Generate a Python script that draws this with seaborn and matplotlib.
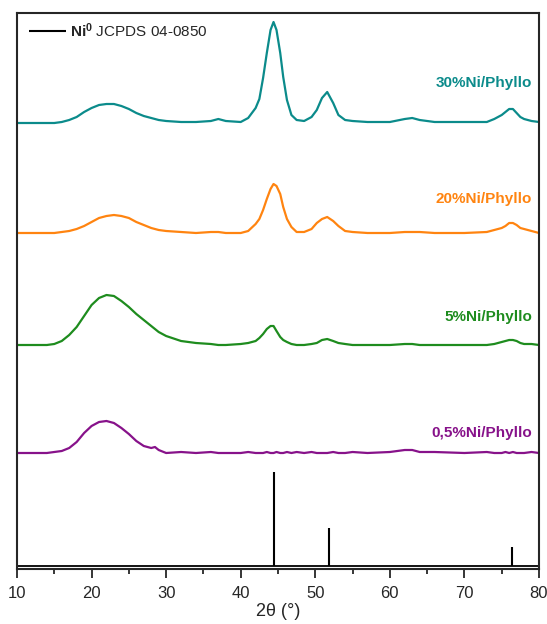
import matplotlib
matplotlib.use("Agg")
import matplotlib.pyplot as plt
import seaborn as sns
import pandas as pd
from matplotlib.ticker import MultipleLocator

two_theta = [10, 12, 14, 15, 16, 17, 18, 19, 20, 21, 22, 23, 24, 25, 26, 27, 28, 28.5, 29, 30,
             32, 34, 36, 37, 38, 40, 41, 42, 42.5, 43, 43.5, 44, 44.4, 44.8, 45.3, 45.7, 46.2, 46.8, 47.5, 48.5,
             49.5, 50.2, 50.9, 51.6, 52.4, 53.1, 54, 55, 57, 60, 62, 63, 64, 66, 70, 73, 74, 75, 75.5, 76,
             76.5, 77, 77.5, 78, 79, 80]

# intensities (a.u., already stacked with offsets)
ni30 = [443, 443, 443, 443, 444, 446, 449, 454, 458, 461, 462, 462, 460, 457, 453, 450, 448, 447, 446, 445,
        444, 444, 445, 447, 445, 444, 448, 458, 467, 488, 513, 536, 544, 536, 513, 489, 466, 451, 446, 445,
        449, 456, 468, 474, 463, 451, 446, 445, 444, 444, 447, 448, 446, 444, 444, 444, 447, 451, 454, 457,
        457, 453, 449, 447, 445, 444]
ni20 = [333, 333, 333, 333, 334, 335, 337, 340, 344, 348, 350, 351, 350, 348, 344, 341, 338, 337, 336, 335,
        334, 333, 334, 334, 333, 333, 335, 342, 347, 356, 367, 377, 382, 380, 372, 359, 347, 339, 334, 334,
        337, 343, 347, 349, 345, 340, 335, 334, 333, 333, 334, 334, 334, 333, 333, 334, 336, 338, 340, 343,
        343, 341, 338, 337, 335, 333]
ni5 = [221, 221, 221, 222, 225, 231, 239, 250, 261, 268, 271, 270, 265, 259, 252, 246, 240, 237, 234, 230,
       225, 223, 222, 221, 221, 222, 223, 225, 228, 232, 237, 240, 240, 235, 229, 226, 224, 222, 221, 221,
       222, 223, 226, 227, 225, 223, 222, 221, 221, 221, 222, 222, 221, 221, 221, 221, 222, 224, 225, 226,
       226, 225, 223, 222, 222, 221]
ni05 = [113, 113, 113, 114, 115, 118, 124, 133, 140, 144, 145, 143, 138, 132, 125, 120, 118, 119, 116, 113,
        114, 113, 114, 113, 113, 113, 114, 113, 113, 113, 114, 113, 113, 114, 113, 113, 114, 113, 114, 113,
        114, 113, 113, 113, 114, 113, 113, 114, 113, 114, 116, 116, 114, 114, 113, 114, 113, 113, 114, 113,
        114, 113, 113, 113, 114, 113]

samples = ["30%Ni/Phyllo", "20%Ni/Phyllo", "5%Ni/Phyllo", "0,5%Ni/Phyllo"]
colors = ["#0b8b8b", "#ff8410", "#1e8c1e", "#87128a"]
label_y = [483, 367, 249, 133]

# Ni0 reference (JCPDS 04-0850)
ref_pos = [44.5, 51.8, 76.4]
ref_int = [94, 38, 19]

sns.set_style("ticks")
plt.rcParams['font.family'] = ['Liberation Sans', 'DejaVu Sans']
plt.rcParams['mathtext.fontset'] = 'custom'
plt.rcParams['mathtext.rm'] = 'Liberation Sans'
plt.rcParams['mathtext.bf'] = 'Liberation Sans:bold'

fig = plt.figure(figsize=(5.47, 6.24), dpi=100)
ax = fig.add_axes([17 / 547, 1 - 569 / 624, 522 / 547, 556 / 624])

for name, vals, c in zip(samples, [ni30, ni20, ni5, ni05], colors):
    df = pd.DataFrame({"2theta": two_theta, "I": vals})
    sns.lineplot(data=df, x="2theta", y="I", color=c, linewidth=1.6, ax=ax)

ax.vlines(ref_pos, 0, ref_int, color="black", linewidth=1.5, label=r"$\mathbf{Ni^0}$ JCPDS 04-0850")
ax.axhline(0, color="black", linewidth=1.3)

for name, c, y in zip(samples, colors, label_y):
    ax.text(79.1, y, name, color=c, fontsize=11, fontweight="bold", ha="right", va="center")

ax.set_xlim(10, 80)
ax.set_ylim(-3, 553)
ax.xaxis.set_major_locator(MultipleLocator(10))
ax.xaxis.set_minor_locator(MultipleLocator(5))
ax.tick_params(axis="x", which="major", direction="out", length=6.5, width=1.3, labelsize=12, pad=6)
ax.tick_params(axis="x", which="minor", direction="out", length=3.8, width=1.3)
ax.set_yticks([])
ax.set_ylabel("")
ax.set_xlabel("2θ (°)", fontsize=13, labelpad=1)
for s in ax.spines.values():
    s.set_linewidth(1.5)
    s.set_visible(True)

leg = ax.legend(loc="upper left", bbox_to_anchor=(0.015, 0.994), borderaxespad=0, fontsize=11,
                handlelength=2.4, handletextpad=0.25, borderpad=0.3, frameon=True, fancybox=False)
leg.get_frame().set_facecolor("white")
leg.get_frame().set_edgecolor("none")

fig.savefig("out.png", dpi=100)
